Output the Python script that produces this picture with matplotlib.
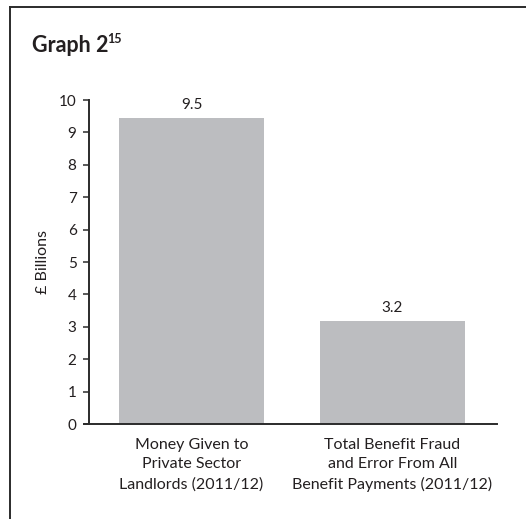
import matplotlib
matplotlib.use("Agg")
import matplotlib.pyplot as plt
from matplotlib.lines import Line2D

plt.rcParams['font.family'] = ['Lato', 'DejaVu Sans']

categories = ["Money Given to\nPrivate Sector\nLandlords (2011/12)",
              "Total Benefit Fraud\nand Error From All\nBenefit Payments (2011/12)"]
values = [9.45, 3.18]
value_labels = ["9.5", "3.2"]
yticks = list(range(0, 11))

W, H = 526, 519
fig = plt.figure(figsize=(W / 100, H / 100), dpi=100)
txt = '#231f20'

# frame lines (top and left)
fig.add_artist(Line2D([10 / W, 1.0], [1 - 7 / H, 1 - 7 / H], transform=fig.transFigure,
                      color='#2b2b2b', lw=1.4))
fig.add_artist(Line2D([10 / W, 10 / W], [0, 1 - 7 / H], transform=fig.transFigure,
                      color='#2b2b2b', lw=1.4))

# title
t = fig.text(32 / W, 1 - 52 / H, "Graph 2", fontsize=15.5, fontweight='bold', color=txt,
             ha='left', va='baseline')
fig.canvas.draw()
bb = t.get_window_extent()
fig.text((bb.x1 - 1.0) / W, 1 - 43 / H, "15", fontsize=9, fontweight='bold', color=txt,
         ha='left', va='baseline')

ax = fig.add_axes([84 / W, (H - 424) / H, (497 - 84) / W, 324 / H])
x = [0, 1]
ax.bar(x, values, width=0.721, color='#bcbdc0', zorder=2)
ax.set_xlim(-0.535, 1.520)
ax.set_ylim(0, 10)

for xi, v, lab in zip(x, values, value_labels):
    ax.annotate(lab, (xi, v), xytext=(0, 4), textcoords='offset points',
                ha='center', va='bottom', fontsize=11, color=txt)

ax.spines['top'].set_visible(False)
ax.spines['right'].set_visible(False)
ax.spines['left'].set_position(('data', -0.51))
for s in ('left', 'bottom'):
    ax.spines[s].set_linewidth(1.4)
    ax.spines[s].set_color('#2b2b2b')

ax.set_yticks(yticks)
ax.set_yticklabels([str(t) for t in yticks], fontsize=11, color=txt)
ax.tick_params(axis='y', direction='out', length=4, width=1.1, color='#2b2b2b', pad=5)
ax.set_xticks(x)
ax.set_xticklabels(categories, fontsize=11.5, color=txt, linespacing=1.5)
ax.tick_params(axis='x', length=0, pad=10)

fig.text(43 / W, 1 - 262 / H, "£ Billions", rotation=90, fontsize=11.5, color=txt,
         ha='center', va='center')

fig.savefig("out.png", dpi=100)
